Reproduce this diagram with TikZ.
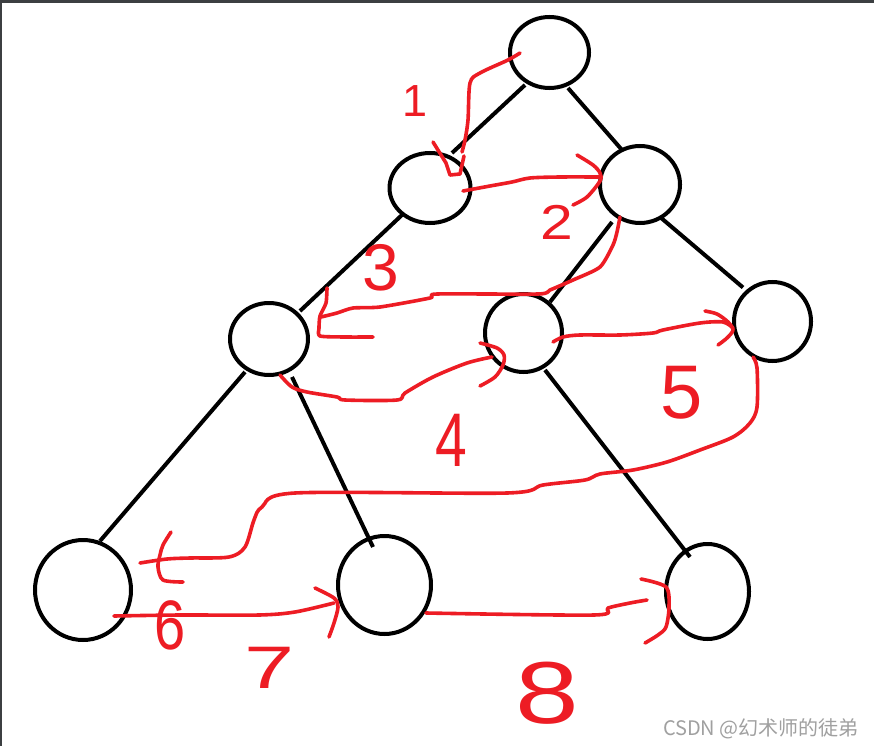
\documentclass[tikz,border=0pt]{standalone}
\usepackage{fontspec}
\setmainfont{Liberation Sans}
\newfontfamily\cjkfont{Noto Sans CJK SC}
\usetikzlibrary{shapes.geometric,calc}
\definecolor{hred}{RGB}{237,28,36}
\definecolor{framegray}{RGB}{60,63,65}
\definecolor{wmark}{RGB}{160,160,160}
\tikzset{
  tnode/.style={ellipse, draw=black, line width=4pt, inner sep=0pt},
  edge/.style={draw=black, line width=4pt},
  redline/.style={draw=hred, line width=3.6pt, line cap=round, line join=round},
  digit/.style={text=hred, inner sep=0pt},
}
\newcommand{\dsize}[1]{\fontsize{#1}{#1}\selectfont}
\begin{document}
\begin{tikzpicture}[x=1pt,y=-1pt]
\useasboundingbox (0,0) rectangle (874,746);
\fill[white] (0,0) rectangle (874,746);
\fill[framegray] (0,0) rectangle (874,3);
\fill[framegray] (0,0) rectangle (1.5,746);

% tree nodes
\node[tnode, minimum width=79pt, minimum height=71pt] (root) at (549.5,52.5) {};
\node[tnode, minimum width=81pt, minimum height=70pt] (B) at (430,188) {};
\node[tnode, minimum width=80pt, minimum height=77pt] (C) at (640,184.5) {};
\node[tnode, minimum width=78pt, minimum height=72pt] (D) at (269,339) {};
\node[tnode, minimum width=77pt, minimum height=78pt] (E) at (523.5,333) {};
\node[tnode, minimum width=77pt, minimum height=79pt] (F) at (772.5,321.5) {};
\node[tnode, minimum width=96pt, minimum height=100pt] (G) at (83,590) {};
\node[tnode, minimum width=93pt, minimum height=98pt] (H) at (384.5,585) {};
\node[tnode, minimum width=83pt, minimum height=95pt] (I) at (707.5,591.5) {};

% tree edges
\draw[edge] ($(root)+(-24.5,32.5)$) -- ($(B)+(22,-35)$);
\draw[edge] ($(root)+(18.5,35.5)$) -- ($(C)+(-18,-34.5)$);
\draw[edge] ($(B)+(-27,26)$) -- ($(D)+(31,-28)$);
\draw[edge] ($(C)+(-28,37.5)$) -- ($(E)+(26.5,-31)$);
\draw[edge] ($(C)+(20,32.5)$) -- ($(F)+(-29.5,-34)$);
\draw[edge] ($(D)+(-24,33)$) -- ($(G)+(17,-49)$);
\draw[edge] ($(D)+(23,38)$) -- ($(H)+(-11.5,-38)$);
\draw[edge] ($(E)+(21.5,37)$) -- ($(I)+(-17.5,-34.5)$);

% red traversal strokes
% 1: root -> B
\draw[redline] plot[smooth,tension=0.5] coordinates {(520,53) (508,60) (480,73) (470,83) (468,120) (465,140) (462,152)};
\draw[redline] (433,142) -- (446,163) -- (450,175) -- (460,174) -- (464,156);
% 2: B -> C
\draw[redline] plot[smooth,tension=0.5] coordinates {(463,191) (490,186) (512,182) (530,178) (560,177) (600,177)};
\draw[redline] plot[smooth,tension=0.5] coordinates {(577,155) (593,165) (600,173) (600,181) (587,197) (573,205)};
% 3: C -> D
\draw[redline] plot[smooth,tension=0.4] coordinates {(620,217) (617,232) (613,245) (600,267) (573,280) (550,290) (538,294) (437,294) (430,298) (380,307) (353,308) (337,313) (321,317)};
\draw[redline] plot[smooth,tension=0.4] coordinates {(327,288) (326,303) (320,316) (319,328) (320,336) (345,337) (373,337)};
% 4: D -> E
\draw[redline] plot[smooth,tension=0.5] coordinates {(280,375) (292,387) (307,392) (337,397) (345,400) (397,400) (405,393) (433,377) (467,363) (492,357)};
\draw[redline] plot[smooth,tension=0.5] coordinates {(480,343) (497,348) (504,355) (503,365) (495,377) (480,386)};
% 5: E -> F
\draw[redline] plot[smooth,tension=0.5] coordinates {(553,342) (563,337) (580,335) (620,335) (653,333) (663,330) (700,323) (723,322) (733,328)};
\draw[redline] plot[smooth,tension=0.5] coordinates {(705,311) (717,314) (728,322) (733,330) (727,338) (718,345)};
% 6: F -> G
\draw[redline] plot[smooth,tension=0.5] coordinates {(753,357) (757,368) (757,407) (750,423) (733,437) (700,450) (667,462) (633,470) (600,474) (585,480) (543,485) (507,493) (295,493) (262,507) (254,520) (245,547) (229,557) (190,558) (167,559) (140,563)};
\draw[redline] plot[smooth,tension=0.5] coordinates {(171,532) (163,545) (160,555) (158,567) (163,580) (183,582)};
% 7: G -> H
\draw[redline] plot[smooth,tension=0.5] coordinates {(114,616) (180,615) (259,615) (295,612) (334,603)};
\draw[redline] plot[smooth,tension=0.5] coordinates {(315,588) (334,598) (338,607) (334,623) (329,637)};
% 8: H -> I
\draw[redline] plot[smooth,tension=0.5] coordinates {(426,613) (594,615) (608,608) (630,603) (647,600)};
\draw[redline] plot[smooth,tension=0.5] coordinates {(641,579) (666,587) (669,607) (666,627) (658,635) (645,643)};

% handwritten step numbers
\node[digit, font=\dsize{45}] (n1) at (415,101) {1};
\node[digit, font=\dsize{49}] (n2) at (557,222) {\scalebox{1.2}[1]{2}};
\node[digit, font=\dsize{66}] (n3) at (381,268) {3};
\node[digit, font=\dsize{76}] (n4) at (451,440) {\scalebox{0.75}[1]{4}};
\node[digit, font=\dsize{76}] (n5) at (682,393) {5};
\node[digit, font=\dsize{70}] (n6) at (170,625) {\scalebox{0.8}[1]{6}};
\node[digit, font=\dsize{60}] (n7) at (270,668) {\scalebox{1.5}[1]{7}};
\node[digit, font=\dsize{88}] (n8) at (547,693) {\scalebox{1.3}[1]{8}};

% watermark
\node[text=wmark, inner sep=0pt, anchor=east, font=\cjkfont\fontsize{20}{20}\selectfont] (wm) at (859,729) {CSDN @幻术师的徒弟};
\end{tikzpicture}
\end{document}
